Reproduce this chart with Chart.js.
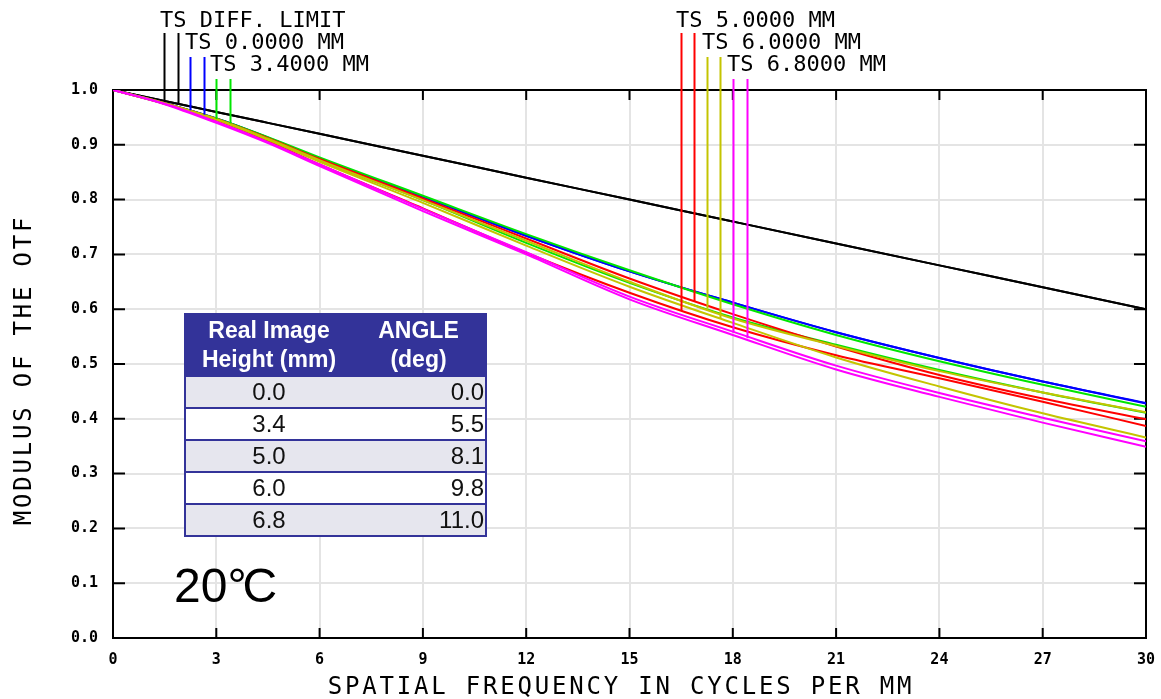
<!DOCTYPE html>
<html>
<head>
<meta charset="utf-8">
<script src="https://cdn.jsdelivr.net/npm/chart.js@4.4.1/dist/chart.umd.min.js"></script>
<style>
  body { margin: 0; background: #fff; }
  #wrap { position: relative; width: 1161px; height: 699px; }
  #mtfChart { position: absolute; left: 0; top: 0; }
  #legendTable {
    position: absolute; left: 184px; top: 313px; width: 303px;
    border-collapse: collapse; border: 2px solid #333399;
    font-family: 'Liberation Sans', Arial, sans-serif; color: #111;
  }
  #legendTable th {
    background: #333399; color: #fff; font-weight: bold; font-size: 23px;
    line-height: 29px; height: 60px; padding: 0; text-align: center;
  }
  #legendTable td {
    height: 30px; line-height: 30px; font-size: 24px; padding: 0;
    border-top: 2px solid #333399; background: #fff;
  }
  #legendTable tr.shade td { background: #e6e6ee; }
  #legendTable td.c1 { text-align: center; width: 166px; }
  #legendTable td.c2 { text-align: right; padding-right: 1px; }
  #tempLabel {
    position: absolute; left: 174px; top: 561px;
    font-family: 'Liberation Sans', Arial, sans-serif; font-size: 48px; line-height: 50px; color: #000;
  }
  #tempLabel span { letter-spacing: -4px; }
</style>
</head>
<body>
<div id="wrap">
  <canvas id="mtfChart" width="1161" height="699"></canvas>
  <table id="legendTable"></table>
  <div id="tempLabel">20<span>°</span>C</div>
</div>
<script>
// spatial frequency (cycles/mm) where curves were read
const FREQ = [0, 1.5, 3, 4.5, 6, 9, 12, 15, 18, 21, 24, 27, 30];

// modulus of the OTF, tangential / sagittal
const DIFF_T = [1.0, 0.980, 0.960, 0.940, 0.920, 0.880, 0.840, 0.800, 0.760, 0.720, 0.680, 0.640, 0.600];
const DIFF_S = [1.0, 0.980, 0.960, 0.940, 0.920, 0.880, 0.840, 0.800, 0.760, 0.720, 0.680, 0.640, 0.600];
const H00_T  = [1.0, 0.976, 0.948, 0.913, 0.875, 0.805, 0.734, 0.669, 0.612, 0.558, 0.511, 0.468, 0.428];
const H00_S  = [1.0, 0.976, 0.948, 0.913, 0.875, 0.805, 0.734, 0.669, 0.612, 0.558, 0.511, 0.468, 0.429];
const H34_T  = [1.0, 0.976, 0.948, 0.914, 0.877, 0.807, 0.737, 0.671, 0.609, 0.553, 0.505, 0.462, 0.422];
const H34_S  = [1.0, 0.975, 0.946, 0.910, 0.871, 0.799, 0.721, 0.648, 0.585, 0.535, 0.489, 0.448, 0.411];
const H50_T  = [1.0, 0.976, 0.947, 0.912, 0.874, 0.802, 0.729, 0.656, 0.591, 0.532, 0.480, 0.437, 0.399];
const H50_S  = [1.0, 0.975, 0.945, 0.907, 0.864, 0.784, 0.703, 0.630, 0.567, 0.516, 0.474, 0.431, 0.387];
const H60_T  = [1.0, 0.976, 0.947, 0.911, 0.872, 0.799, 0.725, 0.650, 0.583, 0.533, 0.487, 0.448, 0.412];
const H60_S  = [1.0, 0.975, 0.946, 0.909, 0.869, 0.794, 0.716, 0.641, 0.575, 0.512, 0.459, 0.410, 0.366];
const H68_T  = [1.0, 0.975, 0.942, 0.905, 0.864, 0.783, 0.704, 0.623, 0.559, 0.497, 0.447, 0.402, 0.359];
const H68_S  = [1.0, 0.974, 0.940, 0.903, 0.861, 0.779, 0.700, 0.618, 0.553, 0.490, 0.440, 0.393, 0.349];

const X_TICKS = [0, 3, 6, 9, 12, 15, 18, 21, 24, 27, 30];
const Y_TICKS = [0.0, 0.1, 0.2, 0.3, 0.4, 0.5, 0.6, 0.7, 0.8, 0.9, 1.0];

// field legend
const IMAGE_HEIGHTS = ['0.0', '3.4', '5.0', '6.0', '6.8'];
const FIELD_ANGLES  = ['0.0', '5.5', '8.1', '9.8', '11.0'];

// curve labels and their marker drops (frequency, MTF where the drop meets the curve)
const CURVE_LABELS = ['TS DIFF. LIMIT', 'TS 0.0000 MM', 'TS 3.4000 MM', 'TS 5.0000 MM', 'TS 6.0000 MM', 'TS 6.8000 MM'];
const MARKER_FREQ  = [1.48, 1.89, 2.24, 2.64, 2.99, 3.40, 16.50, 16.88, 17.25, 17.63, 18.00, 18.40];
const MARKER_MTF   = [0.980, 0.975, 0.963, 0.955, 0.947, 0.939, 0.597, 0.614, 0.601, 0.584, 0.557, 0.547];

const COLORS = ['#000000', '#0000ff', '#00e600', '#ff0000', '#c4c400', '#ff00ff'];

// label layout (px)
const LABEL_LEFT = [160, 185, 210, 676, 702, 727];
const LABEL_BASE = [27, 49, 71, 27, 49, 71];
const ROW_TOP    = [33, 57, 79];

function buildTable() {
  const rows = IMAGE_HEIGHTS.map((h, i) => `
    <tr class="${i % 2 === 0 ? 'shade' : ''}"><td class="c1">${h}</td><td class="c2">${FIELD_ANGLES[i]}</td></tr>`).join('');
  document.getElementById('legendTable').innerHTML = `
    <tr><th>Real Image<br>Height (mm)</th><th>ANGLE<br>(deg)</th></tr>${rows}`;
}

function line(data, color, order) {
  return {
    data:        FREQ.map((f, i) => ({ x: f, y: data[i] })),
    borderColor: color,
    borderWidth: 2,
    pointRadius: 0,
    fill:        false,
    cubicInterpolationMode: 'monotone',
    order,
  };
}

const mtfDecor = {
  id: 'mtfDecor',
  beforeDatasetsDraw(chart) {
    const { ctx, chartArea: a, scales: { x, y } } = chart;
    ctx.save();
    ctx.strokeStyle = '#000';
    ctx.lineWidth = 2;
    ctx.strokeRect(a.left, a.top, a.right - a.left, a.bottom - a.top);
    // inward tick marks on all four sides
    ctx.beginPath();
    x.ticks.forEach(t => {
      const px = x.getPixelForValue(t.value);
      ctx.moveTo(px, a.bottom); ctx.lineTo(px, a.bottom - 10);
      ctx.moveTo(px, a.top);    ctx.lineTo(px, a.top + 10);
    });
    y.ticks.forEach(t => {
      const py = y.getPixelForValue(t.value);
      ctx.moveTo(a.left, py);  ctx.lineTo(a.left + 12, py);
      ctx.moveTo(a.right, py); ctx.lineTo(a.right - 12, py);
    });
    ctx.stroke();
    ctx.restore();
  },
  afterDatasetsDraw(chart) {
    const { ctx, scales: { x, y } } = chart;
    ctx.save();
    ctx.lineWidth = 2;
    MARKER_FREQ.forEach((f, i) => {
      const curve = Math.floor(i / 2);
      const px = Math.round(x.getPixelForValue(f)) + 0.5;
      ctx.strokeStyle = COLORS[curve];
      ctx.beginPath();
      ctx.moveTo(px, ROW_TOP[curve % 3]);
      ctx.lineTo(px, y.getPixelForValue(MARKER_MTF[i]));
      ctx.stroke();
    });

    ctx.fillStyle = '#000';
    ctx.font = "22px 'DejaVu Sans Mono', monospace";
    ctx.textAlign = 'left';
    ctx.textBaseline = 'alphabetic';
    CURVE_LABELS.forEach((t, i) => ctx.fillText(t, LABEL_LEFT[i], LABEL_BASE[i]));

    // axis titles
    ctx.font = "24px 'DejaVu Sans Mono', monospace";
    ctx.letterSpacing = '2.8px';
    ctx.textAlign = 'center';
    ctx.fillText('SPATIAL FREQUENCY IN CYCLES PER MM', 621, 694);
    ctx.translate(31, 370);
    ctx.rotate(-Math.PI / 2);
    ctx.fillText('MODULUS OF THE OTF', 0, 0);
    ctx.restore();
  },
};

document.addEventListener('DOMContentLoaded', () => {
  buildTable();

  const datasets = [
    line(DIFF_T, COLORS[0], 12), line(DIFF_S, COLORS[0], 11),
    line(H00_T,  COLORS[1], 10), line(H00_S,  COLORS[1], 9),
    line(H34_T,  COLORS[2], 8),  line(H34_S,  COLORS[2], 7),
    line(H50_T,  COLORS[3], 6),  line(H50_S,  COLORS[3], 5),
    line(H60_T,  COLORS[4], 4),  line(H60_S,  COLORS[4], 3),
    line(H68_T,  COLORS[5], 2),  line(H68_S,  COLORS[5], 1),
  ];

  const tickFont = { family: "'DejaVu Sans Mono', monospace", size: 15, weight: 'bold' };

  new Chart(document.getElementById('mtfChart'), {
    type: 'line',
    data: { datasets },
    plugins: [mtfDecor],
    options: {
      responsive: false,
      animation:  false,
      layout: { padding: { top: 90, right: 15, left: 0, bottom: 0 } },
      plugins: { legend: { display: false }, tooltip: { enabled: false } },
      scales: {
        x: {
          type: 'linear', min: 0, max: 30,
          afterBuildTicks: (s) => { s.ticks = X_TICKS.map(v => ({ value: v })); },
          afterFit: (s) => { s.height = 61; s.paddingLeft = 0; s.paddingRight = 0; },
          grid:   { color: '#e4e4e4', lineWidth: 2, drawTicks: false },
          border: { display: false },
          ticks:  { color: '#000', font: tickFont, padding: 13, maxRotation: 0,
                    callback: (v) => String(v) },
        },
        y: {
          type: 'linear', min: 0, max: 1,
          afterBuildTicks: (s) => { s.ticks = Y_TICKS.map(v => ({ value: v })); },
          afterFit: (s) => { s.width = 113; s.paddingTop = 0; s.paddingBottom = 0; },
          grid:   { color: '#e4e4e4', lineWidth: 2, drawTicks: false },
          border: { display: false },
          ticks:  { color: '#000', font: tickFont, padding: 15,
                    callback: (v) => Number(v).toFixed(1) },
        },
      },
    },
  });
});
</script>
</body>
</html>
